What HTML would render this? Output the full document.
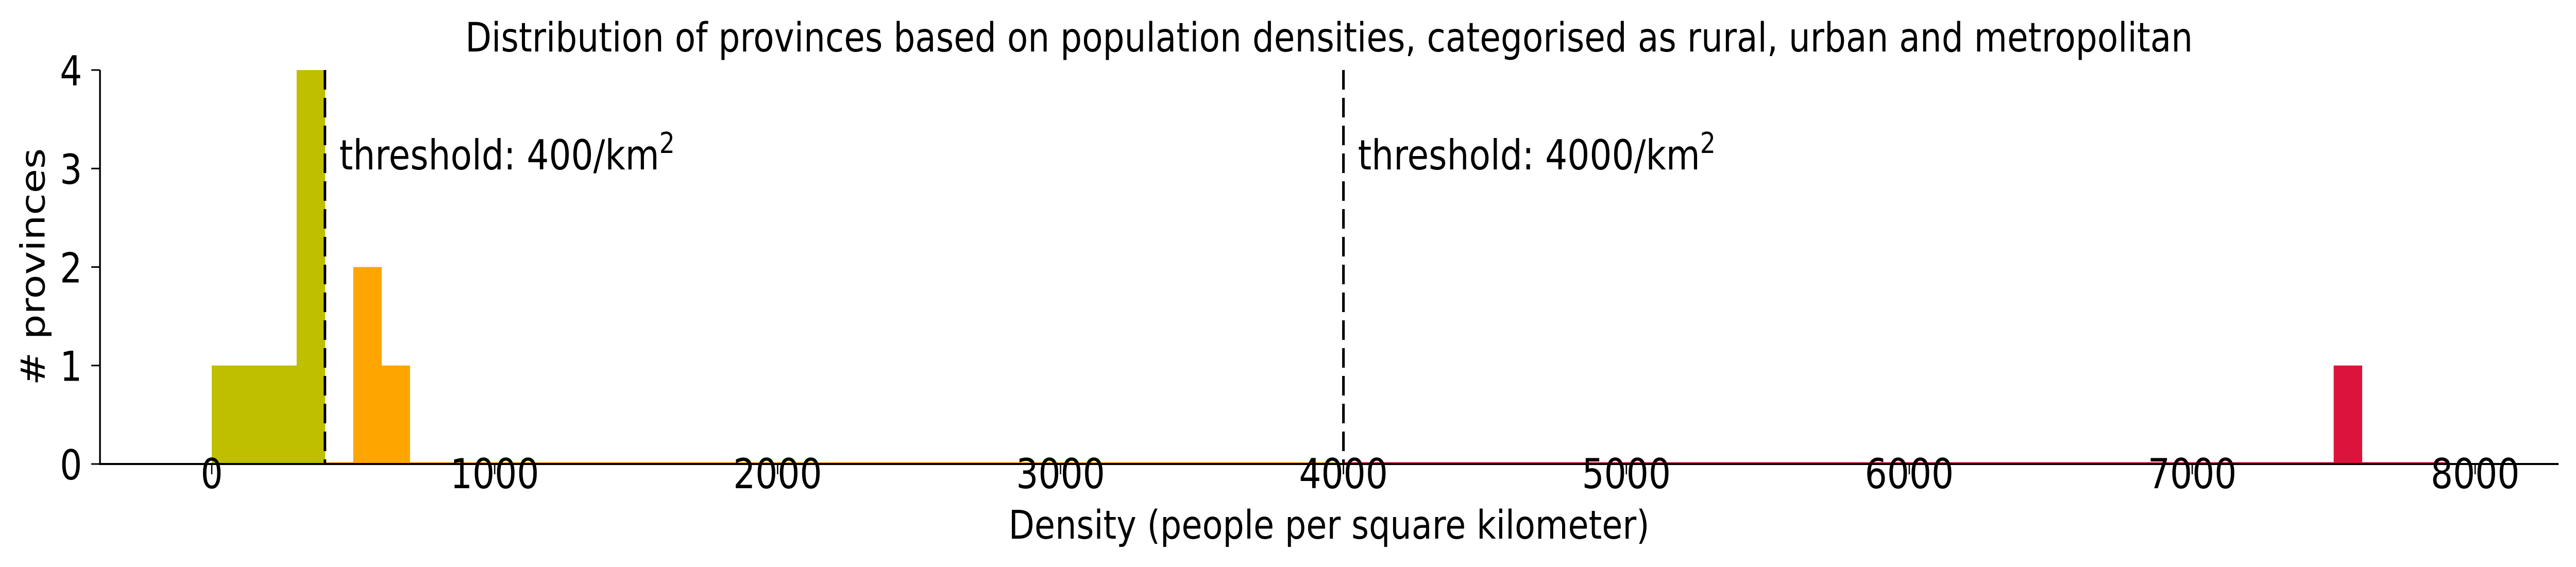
<!DOCTYPE html>
<html><head><meta charset="utf-8"><style>
html,body{margin:0;padding:0;background:#fff;overflow:hidden;width:100vw;height:100vh}
svg{display:block;width:100vw;height:100vh}
text{font-family:"DejaVu Sans","Liberation Sans",sans-serif;fill:#000}
</style></head><body>
<svg id="chart" viewBox="0 0 5900 1101" preserveAspectRatio="none" xmlns="http://www.w3.org/2000/svg">
<text x="3044" y="100" font-size="78" text-anchor="middle">Distribution of provinces based on population densities, categorised as rural, urban and metropolitan</text>
<g id="bars"></g>
<g id="axes"></g>
<text x="3044" y="1046" font-size="77" text-anchor="middle">Density (people per square kilometer)</text>
<text transform="translate(102,518) rotate(-90)" font-size="77" text-anchor="middle"># provinces</text>
</svg>
<script>
const binStarts = [0,100,200,300,500,600,7500];
const binCounts = [1,1,1,4,2,1,1];
const binCats = ['rural','rural','rural','rural','urban','urban','metro'];
const binWidth = 100;
const catColors = {rural:'#bfbf00', urban:'#ffa500', metro:'#dc143c'};
const xTicks = [0,1000,2000,3000,4000,5000,6000,7000,8000];
const yTicks = [0,1,2,3,4];
const thresholds = [400,4000];
const thresholdLabels = ['400','4000'];

const NS='http://www.w3.org/2000/svg';
const x0=485, pxPer=0.648, y0=901, yTop=136, yMax=4;
const X=v=>x0+v*pxPer;
const Y=v=>y0-(y0-yTop)*v/yMax;
const xMin=-395, xMax=8295;
function mk(tag,attrs,parent){const e=document.createElementNS(NS,tag);for(const k in attrs)e.setAttribute(k,attrs[k]);parent.appendChild(e);return e;}
const bars=document.getElementById('bars'), axes=document.getElementById('axes');
binStarts.forEach((s,i)=>{
  const r=mk('rect',{x:X(s),y:Y(binCounts[i]),width:X(s+binWidth)-X(s)+0.5,height:Y(0)-Y(binCounts[i]),fill:catColors[binCats[i]]},bars);
  
  
});
const zl1=mk('line',{x1:X(400),y1:y0-2,x2:X(3990),y2:y0-2,stroke:'#ffa500','stroke-width':3},bars);


const zl2=mk('line',{x1:X(4000),y1:y0-2,x2:X(7900),y2:y0-2,stroke:'#dc143c','stroke-width':3},bars);


const sl=mk('line',{x1:X(xMin),y1:yTop,x2:X(xMin),y2:y0+2,stroke:'#000','stroke-width':4},axes);


const sb=mk('line',{x1:X(xMin)-2,y1:y0,x2:X(xMax),y2:y0,stroke:'#000','stroke-width':4},axes);


xTicks.forEach(t=>{
  const l=mk('line',{x1:X(t),y1:y0,x2:X(t),y2:y0+20,stroke:'#000','stroke-width':3},axes);
  
  
  const tx=mk('text',{x:X(t),y:948,'font-size':80,'text-anchor':'middle'},axes);
  tx.textContent=t;
  
  
});
yTicks.forEach(t=>{
  const l=mk('line',{x1:X(xMin)-20,y1:Y(t),x2:X(xMin),y2:Y(t),stroke:'#000','stroke-width':3},axes);
  
  
  const tx=mk('text',{x:188,y:Y(t)+30,'font-size':80,'text-anchor':'end'},axes);
  tx.textContent=t;
  
  
});
thresholds.forEach((t,i)=>{
  const l=mk('line',{x1:X(t),y1:yTop,x2:X(t),y2:y0,stroke:'#000','stroke-width':6,'stroke-dasharray':'38,16'},axes);
  
  
  const tx=mk('text',{x:X(t)+33,y:329,'font-size':80},axes);
  
  
  tx.appendChild(document.createTextNode('threshold: '+thresholdLabels[i]+'/km'));
  const sup=mk('tspan',{'font-size':56,dy:-32},tx);
  sup.textContent='2';
});
</script>
</body></html>
